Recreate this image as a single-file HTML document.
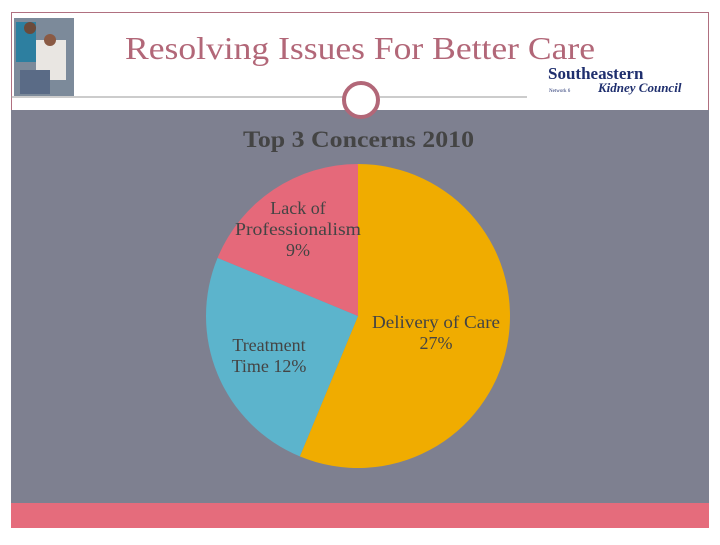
<!DOCTYPE html>
<html><head><meta charset="utf-8"><style>
body{margin:0;width:720px;height:540px;background:#fff;overflow:hidden;font-family:"Liberation Serif",serif;}
</style></head><body>
<svg width="720" height="540" viewBox="0 0 720 540">
<rect x="11.5" y="12.5" width="697" height="515" fill="#fff" stroke="#b07080" stroke-width="1"/>
<g>
<rect x="14" y="18" width="60" height="78" fill="#7c8a9a"/>
<rect x="16" y="22" width="20" height="40" fill="#2d7fa0"/>
<rect x="36" y="40" width="30" height="40" fill="#e9e6e2"/>
<rect x="20" y="70" width="30" height="24" fill="#5a6b86"/>
<circle cx="30" cy="28" r="6" fill="#6b4a3a"/>
<circle cx="50" cy="40" r="6" fill="#8a5a44"/>
</g>
<text x="125" y="59" font-size="32" textLength="470" lengthAdjust="spacingAndGlyphs" fill="#b26778">Resolving Issues For Better Care</text>
<g>
<text x="548" y="79" font-size="17" font-weight="bold" fill="#1f2f6e">Southeastern</text>
<text x="598" y="92" font-size="13" font-weight="bold" font-style="italic" fill="#1f2f6e">Kidney Council</text>
<text x="549" y="92" font-size="5" fill="#1f2f6e">Network 6</text>
</g>
<line x1="11" y1="97" x2="343" y2="97" stroke="#999" stroke-width="1"/>
<line x1="380" y1="97" x2="527" y2="97" stroke="#999" stroke-width="1"/>
<rect x="11" y="110" width="698" height="393" fill="#7e8090"/>
<rect x="11" y="503" width="698" height="25" fill="#e56c7c"/>
<circle cx="361" cy="100" r="17" fill="#fff" stroke="#b26778" stroke-width="4"/>
<text x="243" y="147" font-size="23" textLength="231" lengthAdjust="spacingAndGlyphs" font-weight="bold" fill="#444">Top 3 Concerns 2010</text>
<g id="pie"></g>
<g font-size="18" fill="#444" text-anchor="middle">
<text x="298" y="214"><tspan x="298">Lack of</tspan><tspan x="298" dy="21" textLength="126" lengthAdjust="spacingAndGlyphs">Professionalism</tspan><tspan x="298" dy="21">9%</tspan></text>
<text x="436" y="328"><tspan x="436" textLength="128" lengthAdjust="spacingAndGlyphs">Delivery of Care</tspan><tspan x="436" dy="21">27%</tspan></text>
<text x="269" y="351"><tspan x="269">Treatment</tspan><tspan x="269" dy="21">Time 12%</tspan></text>
</g>
</svg>
<script>
const categories=["Delivery of Care","Treatment Time","Lack of Professionalism"];
const values=[27,12,9];
const colors=["#f0ac00","#5cb4cc","#e5697a"];
const cx=358,cy=316,r=152;
const g=document.getElementById('pie');
const total=values.reduce((a,b)=>a+b,0);
let a0=0;
function pt(a){return [cx+r*Math.sin(a),cy-r*Math.cos(a)];}
values.forEach((v,i)=>{
 const a1=a0+v/total*2*Math.PI;
 const p0=pt(a0),p1=pt(a1);
 const large=(a1-a0)>Math.PI?1:0;
 const p=document.createElementNS('http://www.w3.org/2000/svg','path');
 p.setAttribute('d',`M${cx},${cy}L${p0[0]},${p0[1]}A${r},${r} 0 ${large} 1 ${p1[0]},${p1[1]}Z`);
 p.setAttribute('fill',colors[i]);
 
 
 g.appendChild(p);
 a0=a1;
});
</script>
</body></html>
